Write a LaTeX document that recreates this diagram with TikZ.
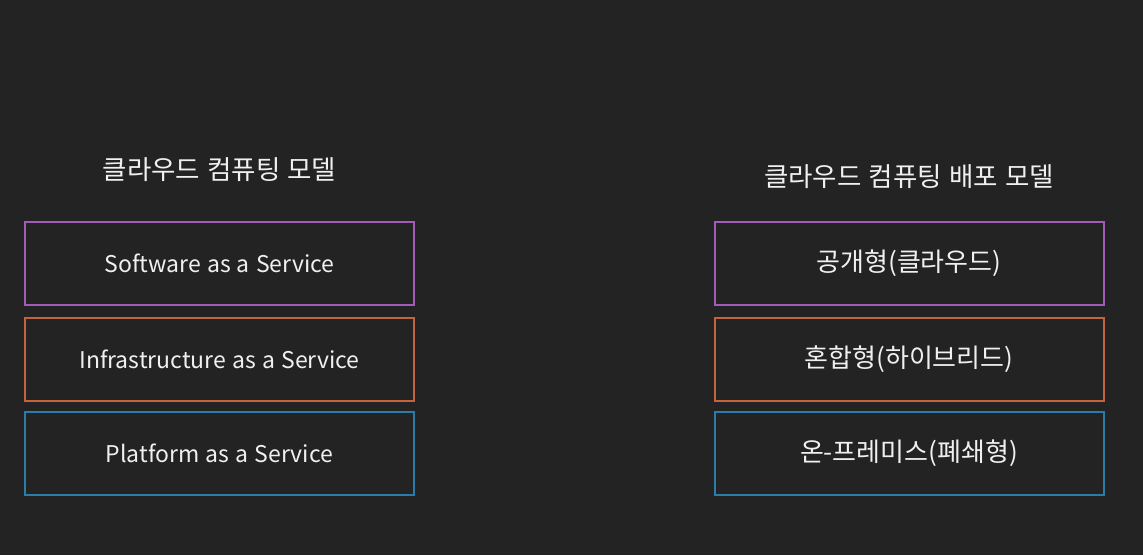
\documentclass[tikz,border=0pt]{standalone}
\usepackage{fontspec}
\setmainfont{Noto Sans CJK KR}
\newfontfamily\latfont[WordSpace=1.5]{Noto Sans CJK KR}
\newfontfamily\ttlfont[WordSpace=1.2]{Noto Sans CJK KR}
\definecolor{bg}{HTML}{232323}
\definecolor{cpurple}{HTML}{A05CB8}
\definecolor{corange}{HTML}{C5643C}
\definecolor{cblue}{HTML}{2A7CAB}
\definecolor{txt}{HTML}{F0F0F0}
\begin{document}
\begin{tikzpicture}[x=1pt,y=-1pt,
  box/.style={draw, line width=2pt, minimum width=389pt, minimum height=83pt, inner sep=0pt, text=txt},
  lat/.style={font=\latfont\fontsize{23}{27}\selectfont},
  kor/.style={font=\fontsize{26}{30}\selectfont},
  ttl/.style={text=txt, font=\ttlfont\fontsize{26.5}{30}\selectfont, inner sep=0pt}]
\fill[bg] (0,0) rectangle (1143,555);
\useasboundingbox (0,0) rectangle (1143,555);
\node[ttl] (t1) at (219.5,170) {클라우드 컴퓨팅 모델};
\node[ttl] (t2) at (909,177) {클라우드 컴퓨팅 배포 모델};
\node[box, lat, draw=cpurple] (l1) at (219.5,263.5) {Software as a Service};
\node[box, lat, draw=corange] (l2) at (219.5,359.5) {Infrastructure as a Service};
\node[box, lat, draw=cblue] (l3) at (219.5,453.5) {Platform as a Service};
\node[box, kor, draw=cpurple] (r1) at (909,263.5) {공개형(클라우드)};
\node[box, kor, draw=corange] (r2) at (909,359.5) {혼합형(하이브리드)};
\node[box, kor, draw=cblue] (r3) at (909,453.5) {온-프레미스(폐쇄형)};
\end{tikzpicture}
\end{document}
